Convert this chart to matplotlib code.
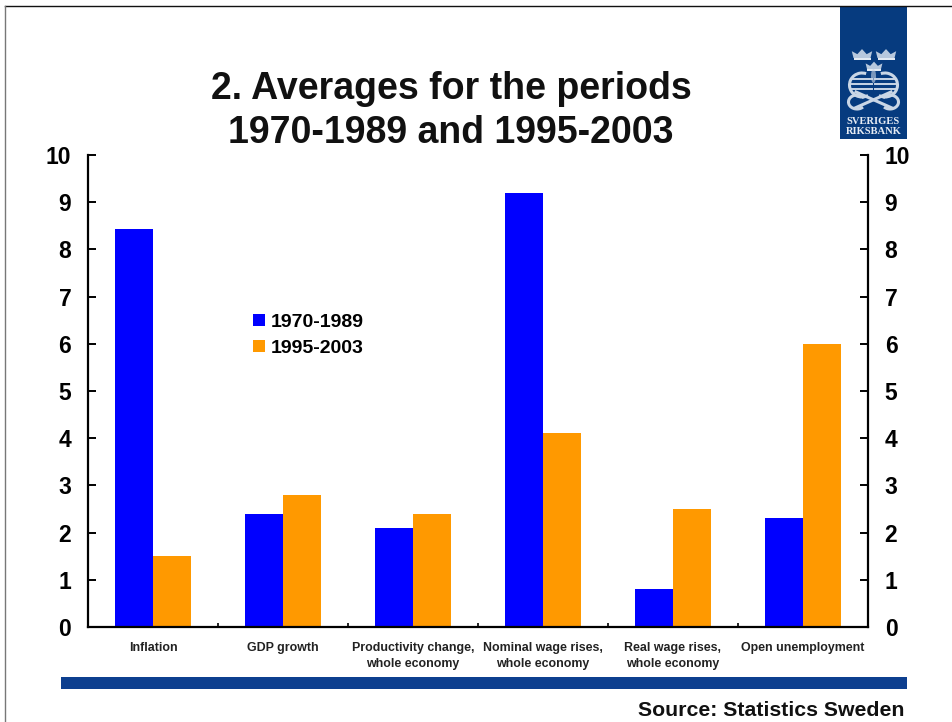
import matplotlib
matplotlib.use('Agg')
import matplotlib.pyplot as plt
from matplotlib.patches import Arc, Ellipse, Polygon, Rectangle
import numpy as np

categories = ['Inflation', 'GDP growth', 'Productivity change,\nwhole economy',
              'Nominal wage rises,\nwhole economy', 'Real wage rises,\nwhole economy',
              'Open unemployment']
period_1970 = [8.43, 2.4, 2.1, 9.2, 0.8, 2.3]
period_1995 = [1.5, 2.8, 2.4, 4.1, 2.5, 6.0]
y_ticks = list(range(0, 11))

W, H = 952, 722
plt.rcParams['font.family'] = ['Liberation Sans', 'DejaVu Sans']
plt.rcParams['font.weight'] = 'bold'


def px_axes(fig, x0, y0, x1, y1, **kw):
    # axes placed by pixel box, y counted from the top
    return fig.add_axes([x0 / W, 1 - y1 / H, (x1 - x0) / W, (y1 - y0) / H], **kw)


def draw_crown(ax, cx, cy, s):
    # logo axes has y pointing down, so points go up with cy - b
    pts = [(-1, 0), (-1.2, .8), (-.55, .45), (0, 1.05), (.55, .45), (1.2, .8), (1, 0)]
    ax.add_patch(Polygon([(cx + s * a, cy - s * b) for a, b in pts], fc='#b7c8dd', ec='none'))
    ax.add_patch(Rectangle((cx - s, cy - .05 * s), 2 * s, .3 * s, fc='#e4ebf3', ec='none'))


def draw_logo(fig):
    ax = px_axes(fig, 840, 6, 907, 139)
    ax.set_xlim(0, 67)
    ax.set_ylim(133, 0)
    ax.axis('off')
    ax.add_patch(Rectangle((0, 0), 67, 133, fc='#063b7f', ec='none'))
    light = '#c9d6e6'
    draw_crown(ax, 22, 52, 8.5)
    draw_crown(ax, 46, 52, 8.5)
    draw_crown(ax, 34, 63, 7)
    # the two lions, reduced to striped shields over crossed keys
    for cx, t1, t2 in ((22, 60, 290), (45, 250, 480)):
        ax.add_patch(Arc((cx, 79), 25, 24, theta1=t1, theta2=t2, ec=light, lw=2.2))
        for dy in (-6, -1, 4):
            ax.plot([cx - 10, cx + 10], [79 + dy, 79 + dy], color=light, lw=1.4)
    ax.plot([16, 52], [86, 102], color=light, lw=2.2)
    ax.plot([51, 15], [86, 102], color=light, lw=2.2)
    ax.add_patch(Arc((17, 96), 17, 14, theta1=40, theta2=330, ec=light, lw=2.2))
    ax.add_patch(Arc((50, 96), 17, 14, theta1=210, theta2=500, ec=light, lw=2.2))
    ax.add_patch(Ellipse((33.5, 70), 5, 14, fc=light, ec='none', alpha=.6))
    ax.text(33.5, 115, 'SVERIGES', ha='center', va='center', color='#e6ecf4',
            fontsize=7.6, family=['Liberation Serif'], weight='bold')
    ax.text(33.5, 125, 'RIKSBANK', ha='center', va='center', color='#e6ecf4',
            fontsize=7.6, family=['Liberation Serif'], weight='bold')


fig = plt.figure(figsize=(W / 100, H / 100), dpi=100, facecolor='white')

# slide frame, only the top and left edges show
fig.add_artist(plt.Line2D([4.5 / W, 1], [1 - 6 / H, 1 - 6 / H], color='#111111', lw=1))
fig.add_artist(plt.Line2D([4.5 / W, 4.5 / W], [0, 1 - 6 / H], color='#777777', lw=1))

ax = px_axes(fig, 88, 155, 868, 627)
x = np.arange(len(categories))
width = 0.29
ax.bar(x - width / 2, period_1970, width, color='#0000ff', label='1970-1989', zorder=2)
ax.bar(x + width / 2, period_1995, width, color='#ff9900', label='1995-2003', zorder=2)

ax.set_xlim(-0.5, len(categories) - 0.5)
ax.set_ylim(0, 10)
ax.set_yticks(y_ticks)
ax.tick_params(axis='y', which='major', direction='in', length=6, width=1.4,
               labelsize=16.5, pad=12, left=True, right=True,
               labelleft=True, labelright=True)
ax.set_xticks(x + 0.5, minor=False)
ax.set_xticklabels([])
ax.tick_params(axis='x', direction='in', length=3, width=1.2)
for xi, name in zip(x, categories):
    ax.annotate(name, xy=(xi, 0), xycoords=('data', 'axes fraction'),
                xytext=(0, -10.5), textcoords='offset points', ha='center', va='top',
                fontsize=8.9, color='#222222', linespacing=1.45)
for side in ('left', 'right', 'bottom'):
    ax.spines[side].set_linewidth(1.6)
ax.spines['top'].set_visible(False)

ax.legend(loc='upper left', bbox_to_anchor=(0.2115, 0.664), frameon=False, fontsize=14,
          handlelength=0.62, handleheight=0.62, handletextpad=0.3, labelspacing=0.47,
          borderpad=0, borderaxespad=0)

fig.text(451 / W, 1 - 89 / H, '2. Averages for the periods', ha='center', va='center',
         fontsize=27, color='#111111')
fig.text(451 / W, 1 - 133 / H, '1970-1989 and 1995-2003', ha='center', va='center',
         fontsize=27, color='#111111')

# footer band and source line
band = px_axes(fig, 61, 677, 907, 689)
band.axis('off')
band.add_patch(Rectangle((0, 0), 1, 1, fc='#0d3f8f', ec='none'))
fig.text(904 / W, 1 - 710 / H, 'Source: Statistics Sweden', ha='right', va='center',
         fontsize=15.3, color='#111111')

draw_logo(fig)
fig.savefig('out.png', dpi=100)
